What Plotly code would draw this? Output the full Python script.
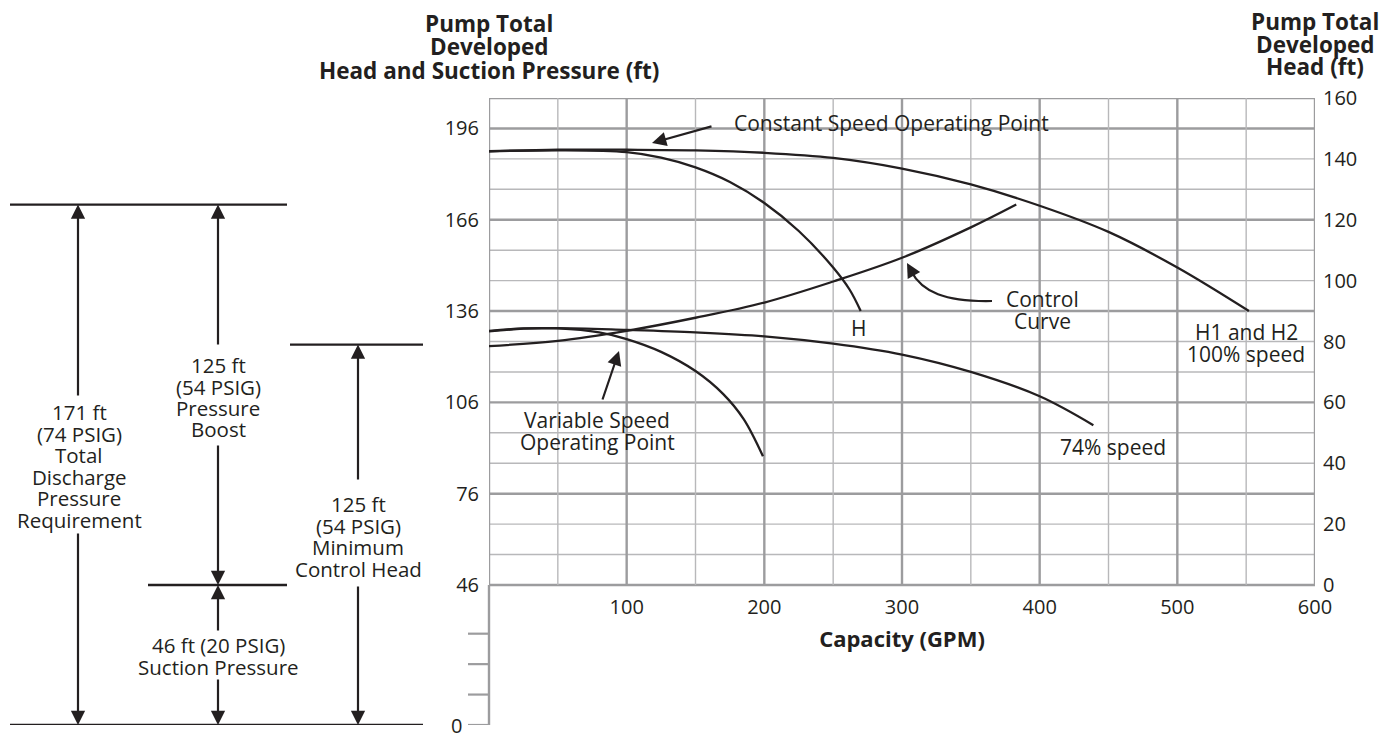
import plotly.graph_objects as go

INK = "#231f20"
GRID_MAJOR = "#9c9c9e"
GRID_MINOR = "#b8b8ba"
FONT = "Open Sans"

# pump curves: capacity (GPM) vs total developed head (ft, right axis)
h100_gpm = [0, 50, 100, 150, 200, 250, 300, 350, 400, 450, 500, 552]
h100_head = [142.5, 143, 143, 142.8, 142, 140.3, 136.8, 131.6, 124.6, 116, 104.3, 90]

h_gpm = [0, 50, 100, 125, 150, 175, 200, 225, 250, 262, 270]
h_head = [142.5, 142.8, 142.2, 140.4, 137.2, 132.4, 125.5, 116.3, 104.3, 97, 90]

ctrl_gpm = [0, 50, 100, 150, 200, 250, 300, 350, 383]
ctrl_head = [78.5, 80.2, 83.5, 87.8, 92.8, 99.7, 107.5, 117.5, 125]

s74_gpm = [0, 25, 50, 100, 150, 200, 250, 300, 350, 400, 439]
s74_head = [83.3, 84.2, 84.4, 83.8, 83, 81.7, 79.3, 75.7, 70, 62, 52.5]

v74_gpm = [0, 25, 50, 80, 100, 125, 150, 170, 185, 199]
v74_head = [83.5, 84.3, 84.3, 83, 80.8, 76.6, 70.3, 62.8, 54.5, 42.3]

# axes
suction_ft = 46
x_ticks = [100, 200, 300, 400, 500, 600]
right_ticks = [0, 20, 40, 60, 80, 100, 120, 140, 160]
left_ticks = [0, 46, 76, 106, 136, 166, 196]
lower_ticks = [0, 10, 20, 30]

# left dimension diagram (ft of head from zero)
total_ft = 171
min_ctrl_ft = 125

# plot area in pixels
W, H = 1380, 736
L, R, T, B = 489, 1315, 98, 725
YMAX = 206


def px(xp):
    return (xp - L) / (R - L)


def py(yp):
    return (B - yp) / (B - T)


def ft2px(v):
    return B - v * (B - T) / YMAX


fig = go.Figure()

for xs, ys in [(h100_gpm, h100_head), (h_gpm, h_head), (ctrl_gpm, ctrl_head),
               (s74_gpm, s74_head), (v74_gpm, v74_head)]:
    fig.add_trace(go.Scatter(x=xs, y=ys, mode="lines", yaxis="y2",
                             line=dict(color=INK, width=2.3, shape="spline", smoothing=1.0),
                             showlegend=False, hoverinfo="skip"))

shapes = []
# grid (only above the suction level)
for v in range(0, 161, 10):
    major = v % 30 == 0 or v == 160
    shapes.append(dict(type="line", xref="x", yref="y2", x0=0, x1=600, y0=v, y1=v, layer="below",
                       line=dict(color=GRID_MAJOR if major else GRID_MINOR, width=2.4 if major else 1.4)))
for g in range(0, 601, 50):
    major = g % 100 == 0
    shapes.append(dict(type="line", xref="x", yref="y2", x0=g, x1=g, y0=0, y1=160, layer="below",
                       line=dict(color=GRID_MAJOR if major else GRID_MINOR, width=2.4 if major else 1.4)))
# lower left axis segment and ticks
shapes.append(dict(type="line", xref="paper", yref="y", x0=0, x1=0, y0=0, y1=suction_ft,
                   line=dict(color=GRID_MAJOR, width=2.4)))
for t in lower_ticks:
    shapes.append(dict(type="line", xref="paper", yref="y", x0=px(468), x1=0, y0=t, y1=t,
                       line=dict(color=GRID_MAJOR, width=2.2)))

# dimension lines
for v, x0, x1 in [(total_ft, 10, 287), (suction_ft, 148, 287), (min_ctrl_ft, 290, 423), (0, 10, 423)]:
    shapes.append(dict(type="line", xref="paper", yref="y", x0=px(x0), x1=px(x1), y0=v, y1=v,
                       line=dict(color=INK, width=2.3)))

# curved arrow for control curve
shapes.append(dict(type="path", xref="paper", yref="paper",
                   path=f"M {px(992)},{py(301)} C {px(945)},{py(302)} {px(922)},{py(292)} {px(911)},{py(271)}",
                   line=dict(color=INK, width=2.2)))

ann = []


def text_lines(lines, xp, yp, size=20.5, gap=21.5, bold=False, anchor="center"):
    for i, s in enumerate(lines):
        ann.append(dict(x=px(xp), y=py(yp + i * gap), xref="paper", yref="paper",
                        text=f"<b>{s}</b>" if bold else s, showarrow=False,
                        xanchor=anchor, yanchor="middle",
                        font=dict(family=FONT, size=size, color=INK)))


def arrow(tip_x, tip_y, tail_x, tail_y, size=1.3):
    ann.append(dict(x=px(tip_x), y=py(tip_y), xref="paper", yref="paper", text="",
                    showarrow=True, ax=tail_x - tip_x, ay=tail_y - tip_y,
                    arrowhead=2, arrowsize=size, arrowwidth=2.2, arrowcolor=INK))


def dim_arrow(xp, tip_ft, tail_px):
    ann.append(dict(x=px(xp), y=tip_ft, xref="paper", yref="y", text="",
                    showarrow=True, ax=0, ay=tail_px - ft2px(tip_ft),
                    arrowhead=2, arrowsize=1.3, arrowwidth=2.2, arrowcolor=INK))


# titles
text_lines(["Pump Total", "Developed", "Head and Suction Pressure (ft)"], 489, 24, size=22.5, gap=23, bold=True)
text_lines(["Pump Total", "Developed", "Head (ft)"], 1315, 21, size=22.5, gap=23, bold=True)

# chart labels
text_lines(["Constant Speed Operating Point"], 732, 123, size=21, anchor="left")
arrow(652, 143, 713, 126)
text_lines(["Control", "Curve"], 1042, 299, size=21)
arrow(907, 263, 912, 272, size=1.3)
text_lines(["H"], 858, 328, size=21)
text_lines(["H1 and H2", "100% speed"], 1246, 332, size=21)
text_lines(["74% speed"], 1113, 447, size=21)
text_lines(["Variable Speed", "Operating Point"], 597, 420, size=21)
arrow(619, 351, 602, 401)

# left diagram
text_lines(["171 ft", "(74 PSIG)", "Total", "Discharge", "Pressure", "Requirement"], 79, 412)
dim_arrow(78, total_ft, 397)
dim_arrow(78, 0, 532)
text_lines(["125 ft", "(54 PSIG)", "Pressure", "Boost"], 218, 365)
dim_arrow(218, total_ft, 346)
dim_arrow(218, suction_ft, 444)
text_lines(["46 ft (20 PSIG)", "Suction Pressure"], 218, 645)
dim_arrow(218, suction_ft, 632)
dim_arrow(218, 0, 678)
text_lines(["125 ft", "(54 PSIG)", "Minimum", "Control Head"], 358, 504)
dim_arrow(358, min_ctrl_ft, 481)
dim_arrow(358, 0, 585)

# bottom "0" of the left axis sits at the page edge, so it is written as text
ann.append(dict(x=px(464), y=left_ticks[0], xref="paper", yref="y", text=str(left_ticks[0]),
                showarrow=False, xanchor="right", yanchor="middle",
                font=dict(family=FONT, size=20, color=INK)))

fig.update_layout(
    width=W, height=H,
    margin=dict(l=L, r=W - R, t=T, b=H - B),
    paper_bgcolor="white", plot_bgcolor="white",
    font=dict(family=FONT, size=20, color=INK),
    shapes=shapes, annotations=ann,
    xaxis=dict(range=[0, 600], anchor="free", position=suction_ft / YMAX,
               tickvals=x_ticks, ticks="", showgrid=False, zeroline=False, showline=False,
               ticklabelstandoff=8,
               title=dict(text="<b>Capacity (GPM)</b>", font=dict(size=22), standoff=12)),
    yaxis=dict(range=[0, YMAX], tickvals=left_ticks[1:], ticktext=[str(t) for t in left_ticks[1:]],
               ticks="", showgrid=False, zeroline=False, showline=False, ticklabelstandoff=9),
    yaxis2=dict(range=[-suction_ft, YMAX - suction_ft], overlaying="y", side="right",
                tickvals=right_ticks, ticks="", showgrid=False, zeroline=False, showline=False,
                ticklabelstandoff=7),
)

# drop the page's default body margin so the figure fills the window exactly
fig.write_html("out.html", config={"displayModeBar": False},
               post_script="document.body.style.margin='0';document.body.style.overflow='hidden';")
